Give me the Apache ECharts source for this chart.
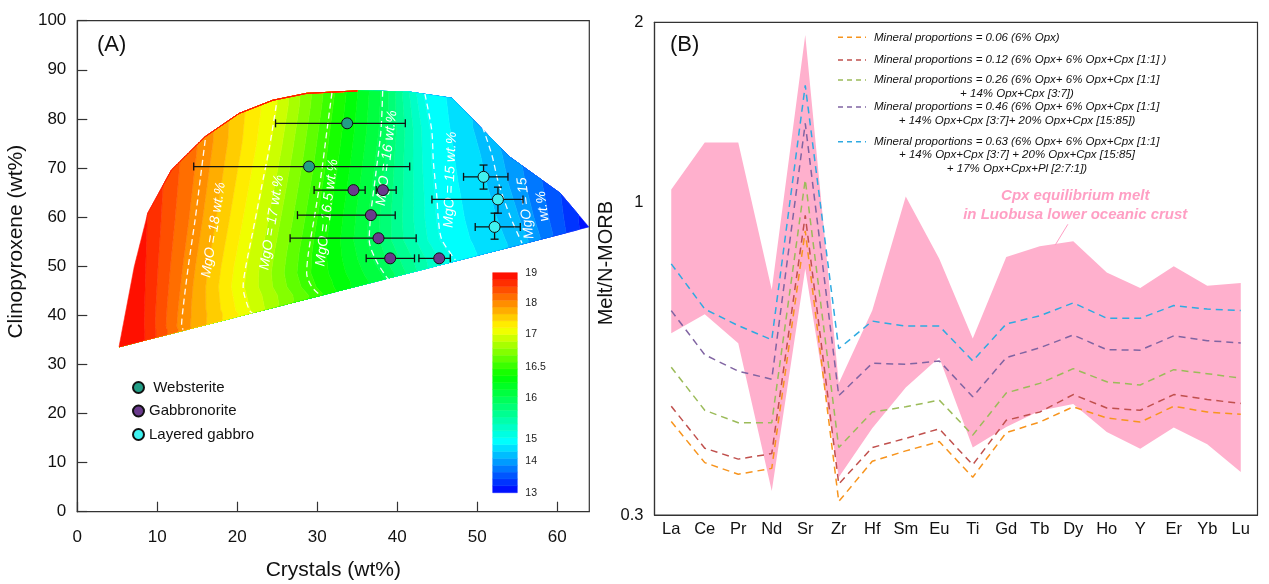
<!DOCTYPE html>
<html lang="en">
<head>
<meta charset="UTF-8">
<title>MgO contours and Cpx equilibrium melts</title>
<script src="https://cdn.jsdelivr.net/npm/echarts@6.0.0/dist/echarts.min.js"></script>
<style>
    html, body { margin: 0; padding: 0; background: #fff; }
    #chart { width: 1269px; height: 584px; }
</style>
</head>
<body>
<div id="chart"></div>
<script>
// ---------- panel A : outline of the modelled field (crystals, cpx) ----------
const regionX = [5.22, 7.12, 8.81, 11.77, 15.99, 20.21, 24.44, 28.67, 35.01, 41.34, 46.84, 54.0, 60.37, 63.94];
const regionY = [33.6, 49.9, 60.8, 69.6, 76.4, 81.1, 83.8, 85.2, 85.7, 85.5, 84.2, 72.3, 64.85, 58.0];

// dashed MgO contours (top -> bottom)
const contourLevels = [18, 17, 16.5, 16, 15, 14.3];
const contourX = [
    [15.99, 15.36, 14.72, 13.87, 13.25, 13.03, 13.25],
    [24.87, 24.02, 22.96, 21.9, 21.06, 20.73, 21.48, 21.9],
    [31.83, 31.21, 30.57, 29.72, 28.88, 28.67, 29.31, 30.36],
    [38.17, 37.96, 37.32, 36.7, 36.49, 37.32, 38.6, 38.99],
    [43.45, 44.3, 44.52, 44.94, 45.14, 45.57, 47.26],
    [50.65, 51.83, 52.66, 54.12, 55.59]
];
const contourY = [
    [75.7, 67.6, 59.4, 49.9, 41.8, 37.7, 37.1],
    [82.8, 74.3, 65.5, 56.7, 49.9, 45.8, 41.1, 40.4],
    [85.3, 77.7, 69.6, 60.8, 52.6, 48.6, 45.8, 44.1],
    [85.7, 77.7, 68.9, 60.8, 55.3, 51.3, 47.9, 47.2],
    [85.1, 77.7, 71.0, 64.2, 59.4, 55.4, 51.3],
    [78.4, 72.6, 66.9, 60.1, 54.7]
];
const contourText = ['MgO = 18 wt.%', 'MgO = 17 wt.%', 'MgO = 16.5 wt.%', 'MgO = 16 wt.%', 'MgO = 15 wt.%', 'MgO = 15\nwt.%'];
const contourTextX = [17.05, 24.32, 31.21, 38.69, 46.62, 57.12];
const contourTextY = [57.4, 58.9, 60.9, 72.0, 67.6, 62.0];
const contourTextRot = [81, 81, 83, 83, 88, 97];

// colour bar
const cbLevels = [13, 14, 15, 16, 16.5, 17, 18, 19];
const cbPos = [0, 0.144, 0.244, 0.432, 0.570, 0.721, 0.861, 1];

// samples
const websX = [33.73, 28.97];
const websY = [79.1, 70.3];
const websXlo = [24.78, 14.55];
const websXhi = [41.0, 41.55];

const gabX = [34.52, 38.2, 36.7, 37.65, 39.11, 45.24];
const gabY = [65.5, 65.5, 60.4, 55.7, 51.6, 51.6];
const gabXlo = [29.6, 37.36, 27.52, 26.6, 36.11, 42.7];
const gabXhi = [35.98, 39.86, 39.74, 42.36, 42.15, 46.62];

const layX = [50.78, 52.58, 52.16];
const layY = [68.2, 63.6, 58.0];
const layXlo = [48.28, 44.33, 49.74];
const layXhi = [53.83, 55.71, 55.37];
const layYlo = [65.7, 60.8, 55.5];
const layYhi = [70.6, 66.1, 60.8];

// ---------- panel B : melt / N-MORB ----------
const elements = ['La', 'Ce', 'Pr', 'Nd', 'Sr', 'Zr', 'Hf', 'Sm', 'Eu', 'Ti', 'Gd', 'Tb', 'Dy', 'Ho', 'Y', 'Er', 'Yb', 'Lu'];
const melt006 = [0.430, 0.367, 0.351, 0.359, 0.896, 0.316, 0.369, 0.384, 0.398, 0.347, 0.412, 0.429, 0.455, 0.436, 0.429, 0.456, 0.446, 0.442];
const melt012 = [0.456, 0.388, 0.372, 0.380, 0.951, 0.338, 0.389, 0.403, 0.418, 0.364, 0.432, 0.446, 0.477, 0.453, 0.449, 0.477, 0.468, 0.461];
const melt026 = [0.530, 0.449, 0.428, 0.428, 1.091, 0.389, 0.446, 0.455, 0.467, 0.408, 0.480, 0.498, 0.527, 0.501, 0.495, 0.525, 0.517, 0.508];
const melt046 = [0.659, 0.556, 0.522, 0.506, 1.355, 0.475, 0.538, 0.536, 0.543, 0.473, 0.550, 0.571, 0.600, 0.567, 0.566, 0.598, 0.587, 0.582];
const melt063 = [0.789, 0.663, 0.622, 0.589, 1.569, 0.569, 0.633, 0.621, 0.621, 0.543, 0.626, 0.646, 0.679, 0.640, 0.640, 0.672, 0.663, 0.659];
const cpxHi = [1.051, 1.259, 1.259, 0.714, 1.904, 0.498, 0.659, 1.023, 0.805, 0.592, 0.810, 0.844, 0.861, 0.763, 0.719, 0.782, 0.725, 0.733];
const cpxLo = [0.604, 0.650, 0.581, 0.329, 0.774, 0.347, 0.419, 0.490, 0.550, 0.389, 0.421, 0.448, 0.460, 0.413, 0.387, 0.420, 0.394, 0.354];
const yTicksB = [0.3, 1, 2];

const meltNames = [
    ['Mineral proportions = 0.06 (6% Opx)'],
    ['Mineral proportions = 0.12 (6% Opx+ 6% Opx+Cpx [1:1] )'],
    ['Mineral proportions = 0.26 (6% Opx+ 6% Opx+Cpx [1:1]', '+ 14% Opx+Cpx [3:7])'],
    ['Mineral proportions = 0.46 (6% Opx+ 6% Opx+Cpx [1:1]', '+ 14% Opx+Cpx [3:7]+ 20% Opx+Cpx [15:85])'],
    ['Mineral proportions = 0.63 (6% Opx+ 6% Opx+Cpx [1:1]', '+ 14% Opx+Cpx [3:7] + 20% Opx+Cpx [15:85]', '+ 17% Opx+Cpx+Pl [2:7:1])']
];
const meltSeries = [melt006, melt012, melt026, melt046, melt063];
const meltColors = ['#f7941d', '#c0504d', '#9bbb59', '#8064a2', '#2eaae1'];

// pointer from the pink label to the band (category index, value)
const pointerCat = [11.84, 11.46];
const pointerVal = [0.919, 0.848];
const bandLabelCat = 12.06;
const bandLabelVal = 0.988;

const FONT = '"Liberation Sans", Arial, sans-serif';
const NB = 32;

// ---------- helpers ----------
function lerp1(xs, ys, v) {
    if (v <= xs[0]) return ys[0];
    const n = xs.length;
    if (v >= xs[n - 1]) return ys[n - 1];
    for (let i = 1; i < n; i++) {
        if (v <= xs[i]) {
            const t = (v - xs[i - 1]) / (xs[i] - xs[i - 1]);
            return ys[i - 1] + t * (ys[i] - ys[i - 1]);
        }
    }
    return ys[n - 1];
}

const jetStops = [[0, [0, 0, 255]], [0.232, [0, 255, 255]], [0.527, [0, 255, 0]], [0.747, [255, 255, 0]], [1, [255, 0, 0]]];
function jet(p) {
    for (let i = 1; i < jetStops.length; i++) {
        if (p <= jetStops[i][0]) {
            const a = jetStops[i - 1], b = jetStops[i];
            const t = (p - a[0]) / (b[0] - a[0]);
            const c = a[1].map((v, k) => Math.round(v + t * (b[1][k] - v)));
            return 'rgb(' + c.join(',') + ')';
        }
    }
    return 'rgb(255,0,0)';
}

function rowSpan(y) {
    let lo = Infinity, hi = -Infinity;
    const n = regionX.length;
    for (let i = 0; i < n; i++) {
        const j = (i + 1) % n;
        const y1 = regionY[i], y2 = regionY[j];
        if ((y - y1) * (y - y2) > 0) continue;
        if (y1 === y2) {
            lo = Math.min(lo, regionX[i], regionX[j]);
            hi = Math.max(hi, regionX[i], regionX[j]);
            continue;
        }
        const x = regionX[i] + (y - y1) / (y2 - y1) * (regionX[j] - regionX[i]);
        lo = Math.min(lo, x);
        hi = Math.max(hi, x);
    }
    return lo <= hi ? [lo, hi] : null;
}

const contourPos = contourLevels.map(l => lerp1(cbLevels, cbPos, l));
const contourAsc = contourX.map((xs, k) => ({ y: contourY[k].slice().reverse(), x: xs.slice().reverse() }));

// scan rows across the field, with the contour crossings on each row
const fieldRows = (function () {
    const ys = [];
    const yMin = Math.min.apply(null, regionY), yMax = Math.max.apply(null, regionY);
    for (let y = yMin; y < yMax; y += 0.25) ys.push(y);
    ys.push(yMax);
    regionY.forEach(v => ys.push(v));
    ys.sort((a, b) => a - b);
    const rows = [];
    ys.forEach(y => {
        if (rows.length && Math.abs(rows[rows.length - 1].y - y) < 1e-6) return;
        const span = rowSpan(y);
        if (!span) return;
        const kx = [7], kp = [1];
        contourAsc.forEach((c, k) => { kx.push(lerp1(c.y, c.x, y)); kp.push(contourPos[k]); });
        kx.push(64.5); kp.push(0);
        rows.push({ y: y, lo: span[0], hi: span[1], pp: kp.reverse(), xx: kx.reverse() });
    });
    return rows;
})();

function renderField(params, api) {
    const children = [];
    for (let j = 0; j < NB; j++) {
        const pLo = j / NB, pHi = (j + 1) / NB;
        const left = [], right = [];
        fieldRows.forEach(r => {
            // outermost bands run to the outline itself
            const xa = j === NB - 1 ? r.lo : Math.min(Math.max(lerp1(r.pp, r.xx, pHi), r.lo), r.hi);
            const xb = j === 0 ? r.hi : Math.min(Math.max(lerp1(r.pp, r.xx, pLo), r.lo), r.hi);
            left.push(api.coord([xa, r.y]));
            right.push(api.coord([xb, r.y]));
        });
        const c = jet((j + 0.5) / NB);
        children.push({
            type: 'polygon',
            shape: { points: left.concat(right.reverse()) },
            style: { fill: c, stroke: c, lineWidth: 0.6 }
        });
    }
    return { type: 'group', children: children };
}

function renderContourText(params, api) {
    const i = params.dataIndex;
    const p = api.coord([api.value(0), api.value(1)]);
    return {
        type: 'text',
        x: p[0], y: p[1],
        rotation: contourTextRot[i] * Math.PI / 180,
        style: {
            text: contourText[i], fill: '#ffffff',
            font: 'italic 14px ' + FONT, lineHeight: 17,
            align: 'center', verticalAlign: 'middle',
            textAlign: 'center', textVerticalAlign: 'middle'
        }
    };
}

function renderErr(params, api) {
    const x = api.value(0), y = api.value(1);
    const a = api.coord([api.value(2), y]);
    const b = api.coord([api.value(3), y]);
    const st = { stroke: '#111', lineWidth: 1.3 };
    const cap = 4;
    const ch = [
        { type: 'line', shape: { x1: a[0], y1: a[1], x2: b[0], y2: b[1] }, style: st },
        { type: 'line', shape: { x1: a[0], y1: a[1] - cap, x2: a[0], y2: a[1] + cap }, style: st },
        { type: 'line', shape: { x1: b[0], y1: b[1] - cap, x2: b[0], y2: b[1] + cap }, style: st }
    ];
    if (api.value(5) > api.value(4)) {
        const c = api.coord([x, api.value(4)]);
        const d = api.coord([x, api.value(5)]);
        ch.push({ type: 'line', shape: { x1: c[0], y1: c[1], x2: d[0], y2: d[1] }, style: st });
        ch.push({ type: 'line', shape: { x1: c[0] - cap, y1: c[1], x2: c[0] + cap, y2: c[1] }, style: st });
        ch.push({ type: 'line', shape: { x1: d[0] - cap, y1: d[1], x2: d[0] + cap, y2: d[1] }, style: st });
    }
    return { type: 'group', children: ch };
}

function renderColorbar(params, api) {
    const ch = [];
    for (let j = 0; j < NB; j++) {
        const a = api.coord([0, j / NB]), b = api.coord([1, (j + 1) / NB]);
        const c = jet((j + 0.5) / NB);
        ch.push({
            type: 'rect',
            shape: { x: a[0], y: b[1], width: b[0] - a[0], height: a[1] - b[1] },
            style: { fill: c, stroke: c, lineWidth: 0.5 }
        });
    }
    cbLevels.forEach((l, i) => {
        const p = api.coord([1, cbPos[i]]);
        ch.push({
            type: 'text', x: p[0] + 8, y: p[1],
            style: {
                text: String(l), fill: '#222', font: '10.5px ' + FONT,
                align: 'left', verticalAlign: 'middle', textAlign: 'left', textVerticalAlign: 'middle'
            }
        });
    });
    return { type: 'group', children: ch };
}

// category axis rounds fractional indices, so interpolate between neighbours
function catCoord(api, c, v) {
    const i = Math.floor(c), t = c - i;
    const p0 = api.coord([i, v]), p1 = api.coord([i + 1, v]);
    return [p0[0] + t * (p1[0] - p0[0]), p0[1] + t * (p1[1] - p0[1])];
}

function renderBand(params, api) {
    const pts = [];
    cpxHi.forEach((v, i) => pts.push(api.coord([i, v])));
    for (let i = cpxLo.length - 1; i >= 0; i--) pts.push(api.coord([i, cpxLo[i]]));
    return { type: 'polygon', shape: { points: pts }, style: { fill: '#ffb0cd' } };
}

function renderBandNote(params, api) {
    const a = catCoord(api, pointerCat[0], pointerVal[0]);
    const b = catCoord(api, pointerCat[1], pointerVal[1]);
    const t = catCoord(api, bandLabelCat, bandLabelVal);
    return {
        type: 'group',
        children: [
            { type: 'line', shape: { x1: a[0], y1: a[1], x2: b[0], y2: b[1] }, style: { stroke: '#ff9fc4', lineWidth: 1 } },
            {
                type: 'text', x: t[0], y: t[1],
                style: {
                    text: 'Cpx equilibrium melt\nin Luobusa lower oceanic crust',
                    fill: '#ff9fc4', font: 'italic bold 15px ' + FONT, lineHeight: 19,
                    align: 'center', verticalAlign: 'middle', textAlign: 'center', textVerticalAlign: 'middle'
                }
            }
        ]
    };
}

// legend of panel B (multi-line entries)
function meltLegend() {
    const tops = [37.3, 60, 80, 107, 141.7];
    const out = [];
    meltNames.forEach((lines, k) => {
        const y = tops[k];
        out.push({
            type: 'line', shape: { x1: 838, y1: y, x2: 866, y2: y },
            style: { stroke: meltColors[k], lineWidth: 1.6, lineDash: [5, 4] }
        });
        lines.forEach((s, m) => {
            out.push({
                type: 'text',
                x: m === 0 ? 874 : 1017,
                y: y + m * 13.4,
                style: {
                    text: s, fill: '#111', font: 'italic 11.5px ' + FONT,
                    align: m === 0 ? 'left' : 'center', verticalAlign: 'middle',
                    textAlign: m === 0 ? 'left' : 'center', textVerticalAlign: 'middle'
                }
            });
        });
    });
    return out;
}

// ---------- option ----------
const axisLine = { show: true, lineStyle: { color: '#333', width: 1.2 } };
const frame = { show: true, borderColor: '#333', borderWidth: 1.2, backgroundColor: 'transparent' };

const series = [
    {
        type: 'custom', name: 'field', xAxisIndex: 0, yAxisIndex: 0, z: 1, silent: true,
        renderItem: renderField, data: [[0, 0]]
    }
];
contourX.forEach((xs, k) => {
    series.push({
        type: 'line', name: 'contour' + contourLevels[k], xAxisIndex: 0, yAxisIndex: 0, z: 2, silent: true,
        symbol: 'none', smooth: 0.3,
        lineStyle: { color: 'rgba(255,255,255,0.95)', width: 1.3, type: [6, 4] },
        data: xs.map((x, i) => [x, contourY[k][i]])
    });
});
series.push({
    type: 'custom', name: 'contourText', xAxisIndex: 0, yAxisIndex: 0, z: 3, silent: true,
    renderItem: renderContourText, data: contourTextX.map((x, i) => [x, contourTextY[i]])
});
const errRows = []
    .concat(websX.map((x, i) => [x, websY[i], websXlo[i], websXhi[i], websY[i], websY[i]]))
    .concat(gabX.map((x, i) => [x, gabY[i], gabXlo[i], gabXhi[i], gabY[i], gabY[i]]))
    .concat(layX.map((x, i) => [x, layY[i], layXlo[i], layXhi[i], layYlo[i], layYhi[i]]));
series.push({
    type: 'custom', name: 'errors', xAxisIndex: 0, yAxisIndex: 0, z: 4, silent: true,
    renderItem: renderErr, data: errRows
});
[
    [' Websterite', websX, websY, '#229e86'],
    ['Gabbronorite', gabX, gabY, '#6a3a8c'],
    ['Layered gabbro', layX, layY, '#3ff2f0']
].forEach(s => {
    series.push({
        type: 'scatter', name: s[0], xAxisIndex: 0, yAxisIndex: 0, z: 5,
        symbol: 'circle', symbolSize: 11,
        itemStyle: { color: s[3], borderColor: '#111', borderWidth: 1, opacity: 1 },
        data: s[1].map((x, i) => [x, s[2][i]])
    });
});
series.push({
    type: 'custom', name: 'colorbar', xAxisIndex: 2, yAxisIndex: 2, z: 6, silent: true,
    renderItem: renderColorbar, data: [[0, 0]]
});
series.push({
    type: 'custom', name: 'cpxBand', xAxisIndex: 1, yAxisIndex: 1, z: 1, silent: true,
    renderItem: renderBand, data: [[0, 1]]
});
meltSeries.forEach((d, k) => {
    series.push({
        type: 'line', name: meltNames[k].join(' '), xAxisIndex: 1, yAxisIndex: 1, z: 3, silent: true,
        symbol: 'none',
        lineStyle: { color: meltColors[k], width: 1.5, type: [7, 5] },
        data: d
    });
});
series.push({
    type: 'custom', name: 'bandNote', xAxisIndex: 1, yAxisIndex: 1, z: 4, silent: true,
    renderItem: renderBandNote, data: [[0, 1]]
});

const option = {
    animation: false,
    backgroundColor: '#fff',
    textStyle: { fontFamily: FONT },
    grid: [
        Object.assign({ left: 77.3, top: 20.7, width: 512, height: 491, outerBoundsMode: 'none' }, frame),
        Object.assign({ left: 654.5, top: 22.3, width: 603, height: 492.7, outerBoundsMode: 'none' }, frame),
        { left: 492.7, top: 272.7, width: 24.6, height: 220, show: false, outerBoundsMode: 'none' }
    ],
    xAxis: [
        {
            gridIndex: 0, type: 'value', min: 0, max: 64, interval: 10,
            axisLine: axisLine, splitLine: { show: false },
            axisTick: { inside: true, length: 10, lineStyle: { color: '#333', width: 1.2 } },
            axisLabel: { fontSize: 17, color: '#111', margin: 17, showMaxLabel: false },
            name: 'Crystals (wt%)', nameLocation: 'middle', nameGap: 48,
            nameTextStyle: { fontSize: 21, color: '#111' }
        },
        {
            gridIndex: 1, type: 'category', data: elements,
            axisLine: axisLine, splitLine: { show: false },
            axisTick: { inside: true, length: 10, interval: 0, lineStyle: { color: '#333', width: 1.2 } },
            axisLabel: { fontSize: 16.5, color: '#111', margin: 6, interval: 0 }
        },
        { gridIndex: 2, type: 'value', min: 0, max: 1, show: false }
    ],
    yAxis: [
        {
            gridIndex: 0, type: 'value', min: 0, max: 100, interval: 10,
            axisLine: axisLine, splitLine: { show: false },
            axisTick: { inside: true, length: 10, lineStyle: { color: '#333', width: 1.2 } },
            axisLabel: { fontSize: 17, color: '#111', margin: 11 },
            name: 'Clinopyroxene (wt%)', nameLocation: 'middle', nameGap: 51,
            nameTextStyle: { fontSize: 21, color: '#111', padding: [0, 0, 0, 49] }
        },
        {
            gridIndex: 1, type: 'log', logBase: 10, min: yTicksB[0], max: yTicksB[yTicksB.length - 1],
            axisLine: axisLine, splitLine: { show: false }, minorTick: { show: false },
            axisTick: { inside: true, length: 8, lineStyle: { color: '#333', width: 1.2 } },
            axisLabel: {
                fontSize: 16.5, color: '#111', margin: 11,
                formatter: v => String(+(+v).toFixed(2))
            },
            name: 'Melt/N-MORB', nameLocation: 'middle', nameGap: 25.5,
            nameTextStyle: { fontSize: 20, color: '#111', padding: [0, 0, 0, 11] }
        },
        { gridIndex: 2, type: 'value', min: 0, max: 1, show: false }
    ],
    legend: {
        data: [' Websterite', 'Gabbronorite', 'Layered gabbro'],
        orient: 'vertical', left: 127, top: 375,
        itemWidth: 11, itemHeight: 11, itemGap: 8.5,
        selectedMode: false,
        textStyle: { fontSize: 15, color: '#111' }
    },
    graphic: [
        { type: 'text', x: 97, y: 45, style: { text: '(A)', fill: '#111', font: '22px ' + FONT, textVerticalAlign: 'middle', verticalAlign: 'middle' } },
        { type: 'text', x: 670, y: 45, style: { text: '(B)', fill: '#111', font: '22px ' + FONT, textVerticalAlign: 'middle', verticalAlign: 'middle' } }
    ].concat(meltLegend()),
    series: series
};

const myChart = echarts.init(document.getElementById('chart'));
myChart.setOption(option);
</script>
</body>
</html>
